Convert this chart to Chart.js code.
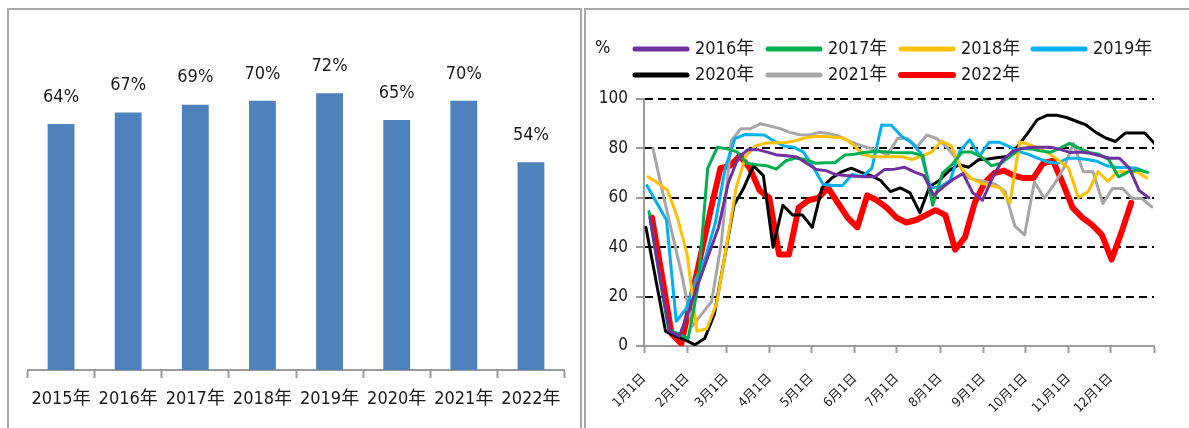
<!DOCTYPE html>
<html>
<head>
<meta charset="utf-8">
<script src="https://cdn.jsdelivr.net/npm/chart.js@4.4.1/dist/chart.umd.min.js"></script>
<style>
  html, body { margin: 0; padding: 0; background: #fff; }
  body { width: 1189px; height: 428px; overflow: hidden; position: relative; }
  .frame { position: absolute; border: 2px solid #a9a9a9; box-sizing: border-box; }
  canvas { position: absolute; }
</style>
</head>
<body>
<div class="frame" style="left:7px;top:8px;width:575px;height:440px"></div>
<div class="frame" style="left:584px;top:8px;width:640px;height:440px"></div>
<canvas id="barChart" width="583" height="428" style="left:0;top:0"></canvas>
<canvas id="lineChart" width="602" height="428" style="left:587px;top:0"></canvas>

<script>
// ---- Annual utilisation (bar chart) ----
const years = ['2015年', '2016年', '2017年', '2018年', '2019年', '2020年', '2021年', '2022年'];
const annualRate = [64, 67, 69, 70, 72, 65, 70, 54];

// ---- Weekly utilisation by year (line chart) ----
const monthLabels = ['1月1日', '2月1日', '3月1日', '4月1日', '5月1日', '6月1日',
                     '7月1日', '8月1日', '9月1日', '10月1日', '11月1日', '12月1日'];
const monthStartDay = [0, 31, 59, 90, 120, 151, 181, 212, 243, 273, 304, 334, 365];
const seriesNames = ['2016年', '2017年', '2018年', '2019年', '2020年', '2021年', '2022年'];
// day of year of each series' first weekly reading
const firstWeekDay = [4.3, 3.6, 2.9, 2.1, 1.4, 6.4, 5.7];

const rate2016 = [52, 28, 6, 4, 14.6, 26, 37, 48, 66, 76, 79.5, 79.5, 78.5, 77.3, 77, 76.5, 74, 71.5, 71, 69.4,
                  69, 68.7, 68.5, 68.5, 71.5, 71.6, 72.4, 70.5, 69, 61, 64.5, 67.5, 69.8, 62, 59, 68, 75, 78.5, 80, 80.5,
                  80.5, 80.5, 79.5, 78.3, 78.5, 78, 77, 76, 76, 72, 63, 60];
const rate2017 = [54.4, 30, 6.5, 5, 3, 24, 72, 80.5, 79.8, 78.6, 74, 73.4, 73, 71.6, 75, 76.1, 75.5, 74, 74.2, 74.2,
                  77.3, 77.6, 78.3, 78.7, 78.6, 78.3, 78.2, 78.2, 77, 57, 70, 73.5, 78.5, 78.5, 76.5, 73, 74, 77, 80, 79.8,
                  79, 78.4, 80, 82, 80, 78.4, 77.6, 75.5, 68.5, 70.5, 71.3, 70.3];
const rate2018 = [68.5, 66, 63, 52, 37, 6, 7, 17, 40, 64, 77, 81, 82.2, 82.3, 82.4, 83, 84.2, 84.8, 84.9, 84.5,
                  84.2, 81.5, 77.5, 76.6, 76.6, 76.6, 76.6, 75.5, 77, 78.5, 83, 81, 72, 68, 66, 65, 64, 58, 82.7, 81.5,
                  80, 78, 75, 72, 60, 62.5, 70.6, 66.7, 70.5, 70.5, 70.5, 68];
const rate2019 = [65, 58, 51, 10, 15, 27, 36, 50, 72, 84, 85.6, 85.5, 85.4, 83, 81, 80.5, 78.5, 72.5, 65.5, 65,
                  65, 69.5, 68.5, 72, 89.5, 89.4, 85, 82.5, 78, 64, 64.5, 67, 79, 83.5, 77, 82.5, 82.5, 80.8, 78.8, 77.6,
                  76, 74.5, 74, 76, 76, 75.5, 74.8, 73, 72.3, 72.3, 72, 70.5];
const rate2020 = [48, 27, 6, 4, 2.5, 0.5, 3, 13, 35, 57, 64, 73, 69, 40, 57, 53, 53, 48, 64, 68,
                  70.5, 72, 70.3, 69, 67, 62.5, 64, 62, 54, 64.6, 67, 71, 73.4, 72.4, 75.4, 75.7, 76.3, 76.7, 80.8, 86,
                  91.6, 93.4, 93.4, 92.5, 91, 89.5, 86.5, 84.2, 82.8, 86.2, 86.2, 86.2, 82];
const rate2021 = [80, 62, 45, 28, 8, 13, 18, 42, 83, 88, 88, 90, 89, 88, 86.5, 85.5, 85.4, 86.5, 86, 85,
                  83, 81.5, 80.3, 79.3, 77.3, 84, 84, 80.7, 85.4, 84, 80.7, 76, 68.5, 67.2, 66.5, 65.5, 62.6, 48.5, 45, 66.5,
                  59.8, 65.3, 72, 82, 70.5, 70.5, 57.7, 63.8, 63.8, 59.7, 59.7, 56.3];
const rate2022 = [52, 29, 5, 1, 19, 37, 55, 72, 73, 77, 72, 63, 60, 37, 37, 56, 59, 60, 64, 58,
                  52, 48, 61, 59, 56, 52, 50, 51, 53, 55, 53, 39, 44, 58, 66, 70, 71, 69, 68, 68,
                  74, 75, 66, 56, 52, 49, 45, 35, 46, 58];

const weeklyRates = [rate2016, rate2017, rate2018, rate2019, rate2020, rate2021, rate2022];

// ---- styling ----
const FONT = '"DejaVu Sans Condensed", "Noto Sans CJK SC", sans-serif';
Chart.defaults.font.family = FONT;
Chart.defaults.color = '#1a1a1a';

const lineColors = ['#7030a0', '#00b050', '#ffc000', '#00b0f0', '#000000', '#a6a6a6', '#ff0000'];
const lineWidths = [3, 3, 3, 3, 3, 3, 6];
const AXIS_GREY = '#9a9a9a';

// value labels above each bar
const barValueLabels = {
  id: 'barValueLabels',
  afterDatasetsDraw(chart) {
    const ctx = chart.ctx;
    const ds = chart.data.datasets[0];
    const meta = chart.getDatasetMeta(0);
    ctx.save();
    ctx.font = '18px ' + FONT;
    ctx.fillStyle = '#1a1a1a';
    ctx.textAlign = 'center';
    ctx.textBaseline = 'middle';
    meta.data.forEach((bar, i) => {
      ctx.fillText(ds.data[i] + '%', bar.x, bar.y - 27);
    });
    ctx.restore();
  }
};

// unit label and two-row legend above the line chart
const legendCols = [45, 178, 311, 443];
const legendRows = [49, 75];
const topLegend = {
  id: 'topLegend',
  afterDraw(chart) {
    const ctx = chart.ctx;
    ctx.save();
    ctx.font = '18px ' + FONT;
    ctx.fillStyle = '#1a1a1a';
    ctx.textAlign = 'left';
    ctx.textBaseline = 'middle';
    ctx.fillText('%', 8, 48);
    chart.data.datasets.forEach((ds, i) => {
      const x = legendCols[i % 4];
      const y = legendRows[Math.floor(i / 4)];
      ctx.strokeStyle = ds.borderColor;
      ctx.lineWidth = ds.borderWidth > 4 ? 6 : 5;
      ctx.lineCap = 'round';
      ctx.beginPath();
      ctx.moveTo(x + 3, y);
      ctx.lineTo(x + 55, y);
      ctx.stroke();
      ctx.fillText(ds.label, x + 63, y);
    });
    ctx.restore();
  }
};

new Chart(document.getElementById('barChart'), {
  type: 'bar',
  data: {
    labels: years,
    datasets: [{
      data: annualRate,
      backgroundColor: '#4f81bd',
      barPercentage: 0.4,
      categoryPercentage: 1
    }]
  },
  options: {
    responsive: false,
    animation: false,
    layout: { padding: { left: 27.5, right: 18.5, top: 62.4, bottom: 0 } },
    plugins: { legend: { display: false }, tooltip: { enabled: false } },
    scales: {
      y: { display: false, min: 0, max: 80 },
      x: {
        afterFit(scale) { scale.height = 58; },
        ticks: { font: { size: 18 }, color: '#1a1a1a', padding: 11, maxRotation: 0, autoSkip: false },
        grid: { drawOnChartArea: false, offset: true, tickLength: 8, tickColor: AXIS_GREY, tickWidth: 2 },
        border: { color: AXIS_GREY, width: 2 }
      }
    }
  },
  plugins: [barValueLabels]
});

new Chart(document.getElementById('lineChart'), {
  type: 'line',
  data: {
    datasets: weeklyRates.map((vals, k) => ({
      label: seriesNames[k],
      data: vals.map((v, i) => ({ x: firstWeekDay[k] + 7 * i, y: v })),
      borderColor: lineColors[k],
      backgroundColor: lineColors[k],
      borderWidth: lineWidths[k],
      fill: false
    }))
  },
  options: {
    responsive: false,
    animation: false,
    layout: { padding: { left: 0, right: 35, top: 99, bottom: 0 } },
    plugins: { legend: { display: false }, tooltip: { enabled: false } },
    elements: {
      point: { radius: 0 },
      line: { tension: 0, borderJoinStyle: 'round', borderCapStyle: 'round' }
    },
    scales: {
      x: {
        type: 'linear',
        min: 0,
        max: 365,
        afterBuildTicks(scale) { scale.ticks = monthStartDay.map(v => ({ value: v })); },
        afterFit(scale) { scale.height = 82; },
        ticks: {
          autoSkip: false,
          maxRotation: 45,
          minRotation: 45,
          font: { size: 13 },
          color: '#1a1a1a',
          padding: 18,
          callback(value) {
            const i = monthStartDay.indexOf(value);
            return i >= 0 && i < monthLabels.length ? monthLabels[i] : '';
          }
        },
        grid: { drawOnChartArea: false, tickLength: 7, tickColor: AXIS_GREY, tickWidth: 2 },
        border: { color: AXIS_GREY, width: 2 }
      },
      y: {
        min: 0,
        max: 100,
        afterFit(scale) { scale.width = 57; },
        ticks: { stepSize: 20, font: { size: 17 }, color: '#1a1a1a', padding: 8 },
        grid: {
          color: (c) => (c.tick && c.tick.value === 0 ? 'rgba(0,0,0,0)' : '#000'),
          lineWidth: 2,
          tickLength: 8,
          tickColor: AXIS_GREY,
          tickWidth: 2
        },
        border: { color: AXIS_GREY, width: 2, dash: [8, 5] }
      }
    }
  },
  plugins: [topLegend]
});
</script>
</body>
</html>
